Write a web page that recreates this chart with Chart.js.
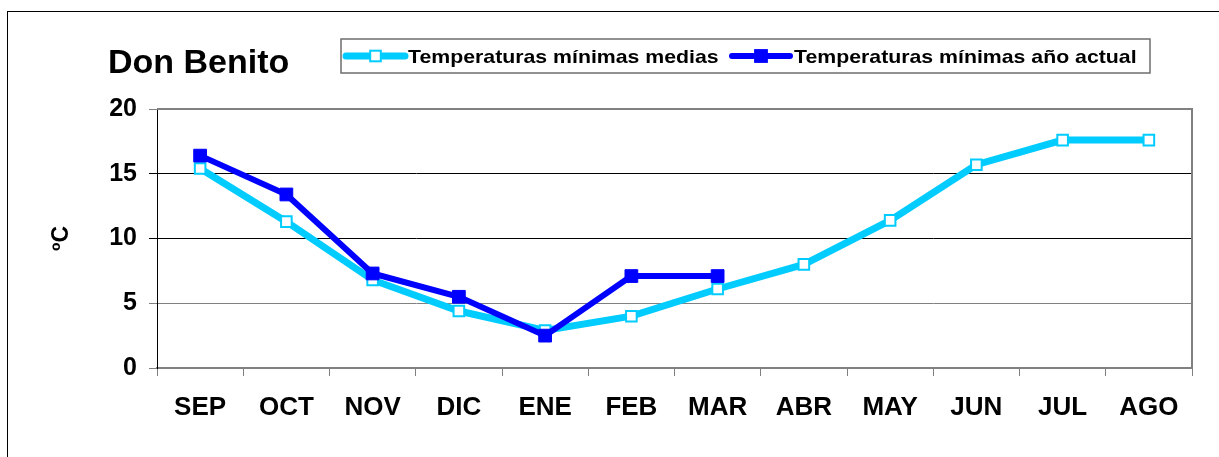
<!DOCTYPE html>
<html>
<head>
<meta charset="utf-8">
<script src="https://cdn.jsdelivr.net/npm/chart.js@4"></script>
<style>
  body { margin: 0; background: #fff; }
  #wrap { position: relative; width: 1219px; height: 457px; }
</style>
</head>
<body>
<div id="wrap"><canvas id="chart"></canvas></div>
<script>
// Datos: temperaturas mínimas, Don Benito
const meses = ['SEP', 'OCT', 'NOV', 'DIC', 'ENE', 'FEB', 'MAR', 'ABR', 'MAY', 'JUN', 'JUL', 'AGO']
const minimasMedias = [15.4, 11.3, 6.8, 4.4, 2.9, 4.0, 6.1, 8.0, 11.4, 15.7, 17.6, 17.6]
const minimasActual = [16.4, 13.4, 7.3, 5.5, 2.5, 7.1, 7.1, null, null, null, null, null]
const etiquetasSerie = ['Temperaturas mínimas medias', 'Temperaturas mínimas año actual']
const titulo = 'Don Benito'
const unidad = 'ºC'

const CYAN = '#00CCFF'
const AZUL = '#0000FF'
const FONT = '"Liberation Sans", Arial, sans-serif'

// Marco exterior, título y leyenda dibujados a mano
const decoracion = {
  id: 'decoracion',
  beforeDraw(chart) {
    const ctx = chart.ctx
    ctx.save()
    ctx.strokeStyle = '#000'
    ctx.lineWidth = 1
    ctx.strokeRect(7.5, 11.5, 1400, 600)
    ctx.restore()
  },
  afterDraw(chart) {
    const ctx = chart.ctx
    const area = chart.chartArea
    ctx.save()

    // borde gris del área de trazado (arriba y derecha)
    ctx.strokeStyle = '#808080'
    ctx.lineWidth = 2
    ctx.beginPath()
    ctx.moveTo(area.left, area.top)
    ctx.lineTo(area.right, area.top)
    ctx.lineTo(area.right, area.bottom)
    ctx.stroke()

    // título
    ctx.fillStyle = '#000'
    ctx.font = 'bold 34px ' + FONT
    ctx.textBaseline = 'alphabetic'
    ctx.fillText(titulo, 108, 73)

    // caja de leyenda
    ctx.fillStyle = '#fff'
    ctx.fillRect(341, 39, 809, 34)
    ctx.strokeStyle = '#6e6e6e'
    ctx.lineWidth = 1.5
    ctx.strokeRect(341, 39, 809, 34)

    const entradas = [
      { ds: chart.data.datasets[0], x0: 346, x1: 405, texto: 408 },
      { ds: chart.data.datasets[1], x0: 732, x1: 790, texto: 794 }
    ]
    entradas.forEach(e => {
      const y = 56
      const mx = (e.x0 + e.x1) / 2
      ctx.strokeStyle = e.ds.borderColor
      ctx.lineWidth = e.ds.borderWidth
      ctx.lineCap = 'round'
      ctx.beginPath()
      ctx.moveTo(e.x0, y)
      ctx.lineTo(e.x1, y)
      ctx.stroke()
      const s = e.ds.pointRadius * Math.SQRT2
      ctx.fillStyle = e.ds.pointBackgroundColor
      ctx.fillRect(mx - s / 2, y - s / 2, s, s)
      ctx.strokeStyle = e.ds.pointBorderColor
      ctx.lineWidth = e.ds.pointBorderWidth
      ctx.strokeRect(mx - s / 2, y - s / 2, s, s)

      // texto algo ensanchado como en el original
      ctx.save()
      ctx.font = 'bold 19px ' + FONT
      ctx.fillStyle = '#000'
      ctx.translate(e.texto, 63)
      ctx.scale(1.12, 1)
      ctx.fillText(e.ds.label, 0, 0)
      ctx.restore()
    })
    ctx.restore()
  }
}

new Chart(document.getElementById('chart'), {
  type: 'line',
  data: {
    labels: meses,
    datasets: [
      {
        label: etiquetasSerie[0],
        data: minimasMedias,
        borderColor: CYAN,
        borderWidth: 7,
        pointStyle: 'rect',
        pointRadius: 7.5,
        pointBackgroundColor: '#fff',
        pointBorderColor: CYAN,
        pointBorderWidth: 2,
        tension: 0,
        order: 1
      },
      {
        label: etiquetasSerie[1],
        data: minimasActual,
        borderColor: AZUL,
        borderWidth: 6,
        pointStyle: 'rect',
        pointRadius: 9,
        pointBackgroundColor: AZUL,
        pointBorderColor: AZUL,
        pointBorderWidth: 1,
        tension: 0,
        spanGaps: false,
        order: 0
      }
    ]
  },
  options: {
    responsive: true,
    maintainAspectRatio: false,
    animation: false,
    layout: { padding: { top: 109, right: 27, left: 0, bottom: 0 } },
    plugins: {
      legend: { display: false },
      tooltip: { enabled: false }
    },
    scales: {
      x: {
        offset: true,
        afterFit: (scale) => { scale.height = 89 },
        grid: {
          offset: true,
          drawOnChartArea: false,
          drawTicks: true,
          tickLength: 8,
          color: '#808080'
        },
        border: { display: true, color: '#808080', width: 2 },
        ticks: {
          color: '#000',
          padding: 16,
          maxRotation: 0,
          font: { family: FONT, size: 26, weight: 'bold' }
        }
      },
      y: {
        min: 0,
        max: 20,
        afterFit: (scale) => { scale.width = 157 },
        grid: {
          tickLength: 8,
          color: (c) => (c.tick && (c.tick.value === 10 || c.tick.value === 15)) ? '#000' : '#808080'
        },
        border: { display: true, color: '#000', width: 1 },
        ticks: {
          stepSize: 5,
          color: '#000',
          padding: 12,
          font: { family: FONT, size: 25, weight: 'bold' }
        },
        title: {
          display: true,
          text: unidad,
          color: '#000',
          padding: { top: 48, bottom: 0 },
          font: { family: FONT, size: 23, weight: 'bold' }
        }
      }
    }
  },
  plugins: [decoracion]
})
</script>
</body>
</html>
